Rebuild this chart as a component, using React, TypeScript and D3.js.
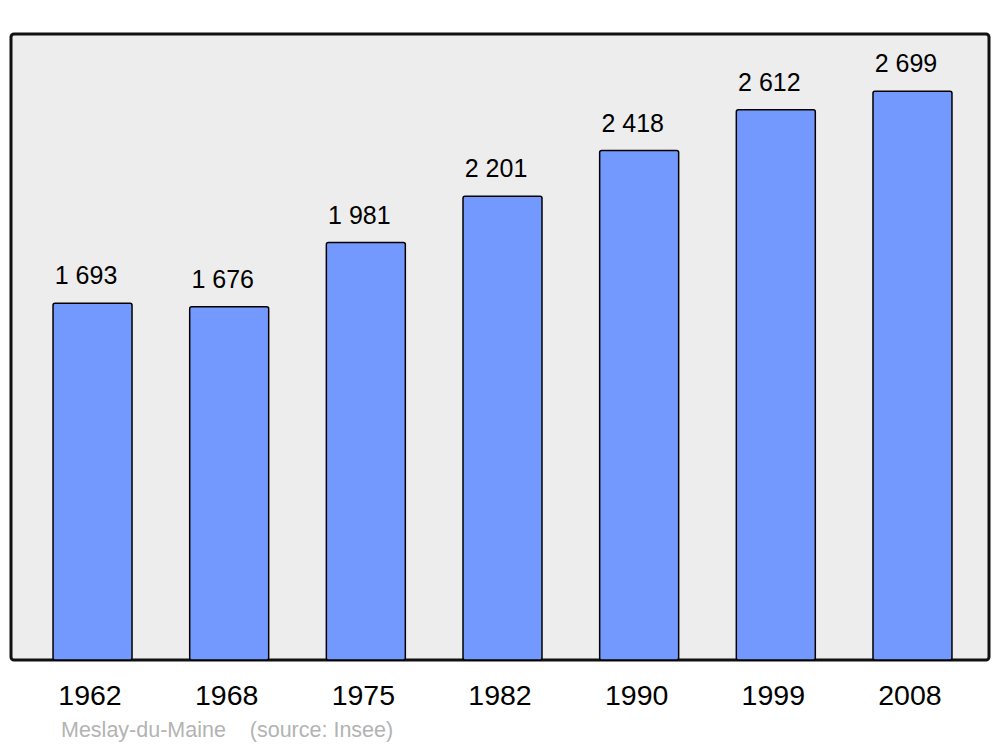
import React from "react";
import * as d3 from "d3";

const years = ["1962", "1968", "1975", "1982", "1990", "1999", "2008"];
const population = [1693, 1676, 1981, 2201, 2418, 2612, 2699];
const valueLabels = ["1 693", "1 676", "1 981", "2 201", "2 418", "2 612", "2 699"];
const caption = "Meslay-du-Maine\u00a0\u00a0\u00a0\u00a0(source: Insee)";

export default function App() {
  const W = 1000, H = 747;
  const frame = { x0: 11, x1: 989, y0: 34, y1: 660 };
  const x = d3.scaleBand<string>().domain(years).range([24.2, 980.8]).paddingInner(0.422).paddingOuter(0.211);
  const y = d3.scaleLinear().domain([0, 2971]).range([frame.y1, frame.y0]);
  const font = "'Liberation Sans', Arial, sans-serif";
  return (
    <svg width={W} height={H} style={{ position: "absolute", left: 0, top: 0 }}>
      <rect x={0} y={0} width={W} height={H} fill="#ffffff" />
      <rect x={frame.x0} y={frame.y0} width={frame.x1 - frame.x0} height={frame.y1 - frame.y0} rx={3} ry={3} fill="#ededed" stroke="#111" strokeWidth={3} />
      {years.map((yr, i) => {
        const bx = x(yr)!;
        const bw = x.bandwidth();
        const top = y(population[i]);
        return (
          <g key={yr}>
            <rect x={bx} y={top} width={bw} height={frame.y1 - top} rx={2} ry={2} fill="#7399ff" stroke="#000" strokeWidth={1.5} />
            <text x={bx + bw / 2 - 6.5} y={top - 19} textAnchor="middle" fontFamily={font} fontSize={25} fill="#000">{valueLabels[i]}</text>
            <text x={bx + bw / 2 - 2.5} y={705} textAnchor="middle" fontFamily={font} fontSize={28.5} fill="#000">{yr}</text>
          </g>
        );
      })}
      <text x={61} y={737} fontFamily={font} fontSize={21.5} fill="#b3b3b3">{caption}</text>
    </svg>
  );
}
